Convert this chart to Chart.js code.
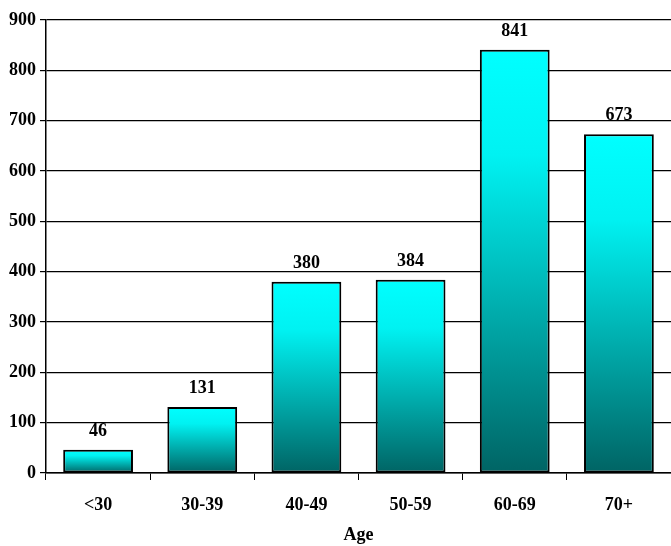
<!DOCTYPE html>
<html>
<head>
<meta charset="utf-8">
<script src="https://cdn.jsdelivr.net/npm/chart.js@4"></script>
<style>
  html, body { margin: 0; padding: 0; background: #fff; }
  #wrap { width: 671px; height: 546px; }
</style>
</head>
<body>
<div id="wrap"><canvas id="chart"></canvas></div>
<script>
const ages = ['<30', '30-39', '40-49', '50-59', '60-69', '70+'];
const counts = [46, 131, 380, 384, 841, 673];
const yTicks = [0, 100, 200, 300, 400, 500, 600, 700, 800, 900];

const fontFam = '"Liberation Serif", "Times New Roman", serif';

// gradient per bar: cyan at the top, dark teal at the base
function barFill(context) {
  const chart = context.chart;
  const { ctx, chartArea, scales } = chart;
  if (!chartArea || context.raw === undefined) return '#00ffff';
  const top = scales.y.getPixelForValue(context.raw);
  const bottom = scales.y.getPixelForValue(0);
  const g = ctx.createLinearGradient(0, top, 0, bottom);
  g.addColorStop(0, '#00ffff');
  g.addColorStop(0.25, '#00f2f2');
  g.addColorStop(1, '#006464');
  return g;
}

const valueLabels = {
  id: 'valueLabels',
  afterDatasetsDraw(chart) {
    const ctx = chart.ctx;
    const meta = chart.getDatasetMeta(0);
    ctx.save();
    ctx.font = 'bold 18px ' + fontFam;
    ctx.fillStyle = '#000';
    ctx.textAlign = 'center';
    ctx.textBaseline = 'alphabetic';
    meta.data.forEach((bar, i) => {
      ctx.fillText(counts[i], bar.x, bar.y - 14);
    });
    ctx.restore();
  }
};

const ctx = document.getElementById('chart').getContext('2d');
new Chart(ctx, {
  type: 'bar',
  data: {
    labels: ages,
    datasets: [{
      data: counts,
      backgroundColor: barFill,
      borderColor: '#000',
      borderWidth: 2,
      borderSkipped: false,
      barPercentage: 0.67,
      categoryPercentage: 1,
    }],
  },
  options: {
    responsive: true,
    maintainAspectRatio: false,
    animation: false,
    layout: { padding: { top: 20, right: 0, left: 0, bottom: 0 } },
    plugins: {
      legend: { display: false },
      tooltip: { enabled: false },
    },
    scales: {
      x: {
        grid: {
          display: true,
          drawOnChartArea: false,
          color: '#000',
          tickLength: 7,
          offset: true,
        },
        border: { color: '#000', width: 1.5 },
        ticks: {
          color: '#000',
          font: { family: fontFam, size: 18, weight: 'bold' },
          padding: 15,
        },
        title: {
          display: true,
          text: 'Age',
          color: '#000',
          font: { family: fontFam, size: 18, weight: 'bold' },
          padding: { top: 4, bottom: 0 },
        },
        afterFit(scale) { scale.height = 73; },
      },
      y: {
        min: 0,
        max: 900,
        afterBuildTicks(scale) { scale.ticks = yTicks.map(v => ({ value: v })); },
        grid: {
          color: '#000',
          lineWidth: 1.2,
          tickLength: 6,
        },
        border: { color: '#000', width: 1.5 },
        ticks: {
          color: '#000',
          font: { family: fontFam, size: 18, weight: 'bold' },
          padding: 4,
        },
        afterFit(scale) { scale.width = 46; },
      },
    },
  },
  plugins: [valueLabels],
});
</script>
</body>
</html>
